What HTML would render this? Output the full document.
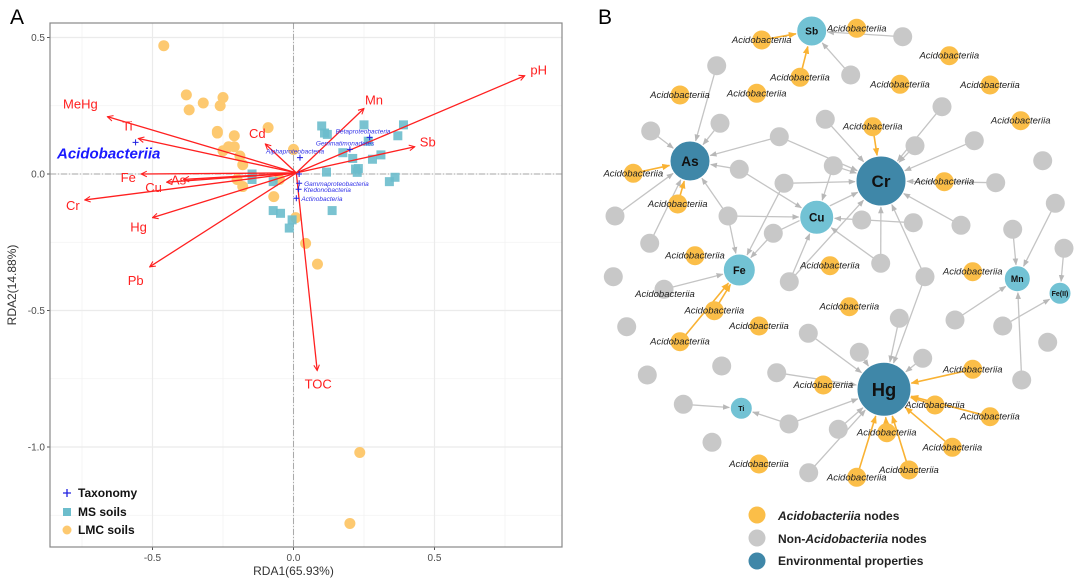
<!DOCTYPE html>
<html><head><meta charset="utf-8"><style>
body{margin:0;background:#fff;}
svg{display:block;font-family:"Liberation Sans",Arial,sans-serif;}
</style></head><body>
<svg id="fig" width="1080" height="584" viewBox="0 0 1080 584" xmlns="http://www.w3.org/2000/svg">
<defs>
<marker id="ar" viewBox="0 0 10 10" refX="9" refY="5" markerWidth="7" markerHeight="7" orient="auto" markerUnits="userSpaceOnUse"><path d="M1,1 L9,5 L1,9" fill="none" stroke="#ff2020" stroke-width="1.5"/></marker>
<marker id="ag" viewBox="0 0 10 10" refX="9" refY="5" markerWidth="7" markerHeight="7" orient="auto" markerUnits="userSpaceOnUse"><path d="M0,1 L10,5 L0,9 z" fill="#b8b8b8"/></marker>
<marker id="ao" viewBox="0 0 10 10" refX="9" refY="5" markerWidth="8" markerHeight="8" orient="auto" markerUnits="userSpaceOnUse"><path d="M0,1 L10,5 L0,9 z" fill="#f9b233"/></marker>
</defs>
<text x="10" y="24" font-size="21" fill="#000">A</text>
<text x="598" y="24" font-size="21" fill="#000">B</text>
<g id="pa"></g>
<g id="pb"></g>
</svg>
<script>
const NS="http://www.w3.org/2000/svg";
function mk(p,t,a){const e=document.createElementNS(NS,t);for(const k in a)e.setAttribute(k,a[k]);p.appendChild(e);return e;}
// ---- Panel A data ----
const envNames=["pH","Mn","Sb","Cd","MeHg","Ti","Fe","As","Cu","Cr","Hg","Pb","TOC"];
const envX=[0.82,0.25,0.43,-0.10,-0.66,-0.55,-0.54,-0.39,-0.45,-0.74,-0.50,-0.51,0.084];
const envY=[0.36,0.24,0.10,0.11,0.21,0.13,0.0,-0.02,-0.03,-0.095,-0.16,-0.34,-0.72];
const taxNames=["Acidobacteriia","Alphaproteobacteria","Gemmatimonadetes","Betaproteobacteria","","Gammaproteobacteria","Ktedonobacteria","Actinobacteria"];
const taxX=[-0.56,0.023,0.20,0.27,0.02,0.02,0.018,0.01];
const taxY=[0.116,0.06,0.09,0.134,0.0,-0.034,-0.056,-0.089];
const lmcX=[-0.46,-0.38,-0.37,-0.32,-0.25,-0.26,-0.27,-0.27,-0.21,-0.09,-0.23,-0.21,-0.25,-0.19,-0.18,0.0,-0.20,-0.18,-0.07,0.008,0.043,0.085,0.235,0.20,-0.05];
const lmcY=[0.47,0.29,0.235,0.26,0.28,0.25,0.156,0.15,0.14,0.17,0.10,0.10,0.085,0.066,0.034,0.09,-0.02,-0.046,-0.083,-0.16,-0.254,-0.33,-1.02,-1.28,-0.02];
const msX=[0.10,0.11,0.12,0.25,0.39,0.37,0.265,0.175,0.21,0.28,0.31,0.22,0.23,0.226,0.117,0.36,0.34,-0.147,-0.147,-0.072,0.137,-0.072,-0.046,-0.005,-0.015];
const msY=[0.176,0.15,0.145,0.18,0.18,0.14,0.12,0.078,0.057,0.054,0.07,0.018,0.02,0.006,0.007,-0.012,-0.028,0.0,-0.02,-0.028,-0.134,-0.134,-0.144,-0.168,-0.198];
const xTicks=[-0.5,0.0,0.5];
const yTicks=[0.5,0.0,-0.5,-1.0];
const X0=50,X1=562,Y0=23,Y1=547;
const sx=v=>293.5+v*282;
const sy=v=>174-v*273;
const pa=document.getElementById('pa');
mk(pa,'rect',{x:X0,y:Y0,width:X1-X0,height:Y1-Y0,fill:'#fff'});
[-0.75,-0.25,0.25,0.75].forEach(v=>mk(pa,'line',{x1:sx(v),x2:sx(v),y1:Y0,y2:Y1,stroke:'#f2f2f2','stroke-width':0.8}));
[0.25,-0.25,-0.75,-1.25].forEach(v=>mk(pa,'line',{x1:X0,x2:X1,y1:sy(v),y2:sy(v),stroke:'#f2f2f2','stroke-width':0.8}));
xTicks.forEach(v=>{mk(pa,'line',{x1:sx(v),x2:sx(v),y1:Y0,y2:Y1,stroke:'#ebebeb','stroke-width':1.2});
 mk(pa,'line',{x1:sx(v),x2:sx(v),y1:Y1,y2:Y1+3,stroke:'#555'});
 const t=mk(pa,'text',{x:sx(v),y:Y1+14,'font-size':10,fill:'#4d4d4d','text-anchor':'middle'});t.textContent=v.toFixed(1);
 });
yTicks.forEach(v=>{mk(pa,'line',{x1:X0,x2:X1,y1:sy(v),y2:sy(v),stroke:'#ebebeb','stroke-width':1.2});
 mk(pa,'line',{x1:X0-3,x2:X0,y1:sy(v),y2:sy(v),stroke:'#555'});
 const t=mk(pa,'text',{x:X0-5,y:sy(v)+3.5,'font-size':10,fill:'#4d4d4d','text-anchor':'end'});t.textContent=v.toFixed(1);
 });
mk(pa,'line',{x1:sx(0),x2:sx(0),y1:Y0,y2:Y1,stroke:'#aaa','stroke-dasharray':'6,2,1,2'});
mk(pa,'line',{x1:X0,x2:X1,y1:sy(0),y2:sy(0),stroke:'#aaa','stroke-dasharray':'6,2,1,2'});
lmcX.forEach((v,i)=>{const c=mk(pa,'circle',{cx:sx(v),cy:sy(lmcY[i]),r:5.5,fill:'#fdc970'});
 });
msX.forEach((v,i)=>{const c=mk(pa,'rect',{x:sx(v)-4.5,y:sy(msY[i])-4.5,width:9,height:9,fill:'#6cbdcc',opacity:0.9});
 });
const lo={pH:[14,-5],Mn:[10,-8],Sb:[13,-4],Cd:[-8,-10],MeHg:[-27,-12],Ti:[-11,-12],Fe:[-13,4],As:[-5,1],Cu:[-13,6],Cr:[-12,6],Hg:[-14,10],Pb:[-14,14],TOC:[1,14]};
envNames.forEach((n,i)=>{const l=mk(pa,'line',{x1:sx(0.01),y1:sy(0.004),x2:sx(envX[i]),y2:sy(envY[i]),stroke:'#ff2020','stroke-width':1.3,'marker-end':'url(#ar)'});
 
 const o=lo[n];const t=mk(pa,'text',{x:sx(envX[i])+o[0],y:sy(envY[i])+o[1]+4,'font-size':13,fill:'#ff2020','text-anchor':'middle'});t.textContent=n;
 });
taxX.forEach((v,i)=>{const x=sx(v),y=sy(taxY[i]);
 const p=mk(pa,'path',{d:`M${x-3},${y}H${x+3}M${x},${y-3}V${y+3}`,stroke:'#2020e0','stroke-width':1});
 
 if(!taxNames[i])return;
 let t;
 if(i===0){t=mk(pa,'text',{x:57,y:y+16,'font-size':15,'font-weight':'bold','font-style':'italic',fill:'#1a1aff'});}
 else if(i<=3){t=mk(pa,'text',{x:x-34,y:y-4,'font-size':6.5,'font-style':'italic',fill:'#3030e8'});}
 else{t=mk(pa,'text',{x:x+5,y:y+2.5,'font-size':6.5,'font-style':'italic',fill:'#3030e8'});}
 t.textContent=taxNames[i];});
mk(pa,'rect',{x:X0,y:Y0,width:X1-X0,height:Y1-Y0,fill:'none',stroke:'#888','stroke-width':1.2});
let t=mk(pa,'text',{x:sx(0),y:575,'font-size':12,fill:'#333','text-anchor':'middle'});t.textContent='RDA1(65.93%)';

t=mk(pa,'text',{x:16,y:285,'font-size':12,fill:'#333','text-anchor':'middle',transform:'rotate(-90 16 285)'});t.textContent='RDA2(14.88%)';

const lg=mk(pa,'g',{});
mk(lg,'path',{d:'M63,493H71M67,489V497',stroke:'#2020e0','stroke-width':1.3});
mk(lg,'rect',{x:63,y:508,width:8,height:8,fill:'#6cbdcc'});
mk(lg,'circle',{cx:67,cy:530,r:4.5,fill:'#fdc970'});
[['Taxonomy',497],['MS soils',516],['LMC soils',534]].forEach(a=>{const e=mk(lg,'text',{x:78,y:a[1],'font-size':12,'font-weight':'bold',fill:'#111'});e.textContent=a[0];
 });

// ---- Panel B ----
const envNodes=[["Sb",811.7,31,15,0],["As",690,161,20,1],["Cr",881,181,25,1],["Cu",816.7,217.3,17,0],["Fe",739.3,270,16,0],["Mn",1017.3,278.7,13,0],["Fe(II)",1060,293.3,11,0],["Hg",884,389.3,27,1],["Ti",741.3,408.3,11,0]];
const grayNodes=[[902.7,36.7],[850.7,75],[716.7,65.7],[720,123.3],[650.7,131],[779.3,136.7],[825.3,119.3],[942,106.7],[915,145.7],[974.3,140.7],[1042.7,160.7],[833.3,165.7],[739.3,169.3],[784,183.3],[995.7,182.7],[615,216],[728,216],[861.7,220],[913.3,222.7],[773.3,233.3],[961,225.3],[649.7,243.3],[1012.7,229.3],[1055.3,203.3],[880.7,263.3],[1064,248.3],[613.3,276.7],[789.3,281.7],[925,276.7],[664,289.3],[626.7,326.7],[808.3,333.3],[899.3,318.3],[955,320],[1002.7,326],[1047.7,342.3],[859.3,352.3],[922.7,358.3],[721.7,366],[647.3,375],[776.7,372.7],[1021.7,380],[683.3,404.3],[789,424],[838.3,429.3],[712,442.3],[808.7,472.7]];
const acidoNodes=[[761.7,40],[856.7,28.3],[800,77.3],[949.3,55.7],[900,84.3],[990,85],[680,95],[756.7,93.3],[1020.7,120.7],[872.7,126.7],[633.3,173.3],[677.7,204],[944.3,181.7],[695,255.7],[830,265.7],[972.7,271.7],[714.3,310.7],[759,326],[680,341.7],[849.3,306.7],[823.3,385],[972.7,369.3],[935,405],[990,416.7],[886.7,432.7],[952.3,447.3],[909,470],[856.7,477.3],[759,464]];
const edges=[["g",2,"As"],["g",3,"As"],["g",4,"As"],["g",5,"As"],["g",12,"As"],["g",15,"As"],["g",16,"As"],["g",21,"As"],["a",10,"As"],["a",11,"As"],
["g",6,"Cr"],["g",7,"Cr"],["g",8,"Cr"],["g",9,"Cr"],["g",11,"Cr"],["g",13,"Cr"],["g",14,"Cr"],["g",20,"Cr"],["g",24,"Cr"],["g",28,"Cr"],["g",27,"Cr"],["g",19,"Cr"],["g",5,"Cr"],["a",9,"Cr"],
["g",12,"Cu"],["g",16,"Cu"],["g",18,"Cu"],["g",11,"Cu"],["g",27,"Cu"],["g",24,"Cu"],
["g",16,"Fe"],["g",13,"Fe"],["g",29,"Fe"],["g",19,"Fe"],["a",16,"Fe"],["a",18,"Fe"],
["a",0,"Sb"],["a",2,"Sb"],["g",0,"Sb"],["g",1,"Sb"],
["g",22,"Mn"],["g",23,"Mn"],["g",41,"Mn"],["g",33,"Mn"],
["g",25,"Fe(II)"],["g",34,"Fe(II)"],
["g",31,"Hg"],["g",36,"Hg"],["g",32,"Hg"],["g",37,"Hg"],["g",28,"Hg"],["g",43,"Hg"],["g",44,"Hg"],["g",46,"Hg"],["g",40,"Hg"],
["a",21,"Hg"],["a",22,"Hg"],["a",23,"Hg"],["a",24,"Hg"],["a",25,"Hg"],["a",26,"Hg"],["a",27,"Hg"],
["g",42,"Ti"],["g",43,"Ti"]];
const pb=document.getElementById('pb');
const eg=mk(pb,'g',{});
const envMap={};envNodes.forEach(n=>envMap[n[0]]=n);
edges.forEach(e=>{const s=e[0]==='g'?grayNodes[e[1]]:acidoNodes[e[1]];const t=envMap[e[2]];
 const dx=t[1]-s[0],dy=t[2]-s[1],d=Math.hypot(dx,dy);const r=t[3]+1;
 const org=e[0]==='a';
 const l=mk(eg,'line',{x1:s[0],y1:s[1],x2:t[1]-dx/d*r,y2:t[2]-dy/d*r,stroke:org?'#f9b233':'#c4c4c4','stroke-width':org?1.6:1.3,'marker-end':org?'url(#ao)':'url(#ag)'});
 });
grayNodes.forEach(n=>{const c=mk(pb,'circle',{cx:n[0],cy:n[1],r:9.5,fill:'#c8c8c8'});
 });
acidoNodes.forEach(n=>{const c=mk(pb,'circle',{cx:n[0],cy:n[1],r:9.5,fill:'#fbbe48'});
 });
acidoNodes.forEach(n=>{const t=mk(pb,'text',{x:n[0],y:n[1]+3,'font-size':9.5,'font-style':'italic',fill:'#222','text-anchor':'middle'});t.textContent='Acidobacteriia';
 });
{const t=mk(pb,'text',{x:665,y:297,'font-size':9.5,'font-style':'italic',fill:'#222','text-anchor':'middle'});t.textContent='Acidobacteriia';
 }
envNodes.forEach(n=>{const c=mk(pb,'circle',{cx:n[1],cy:n[2],r:n[3],fill:n[4]?'#3f87a8':'#72c2d4',stroke:'#fff','stroke-width':1});
 
 const fs=n[3]*0.68;const t=mk(pb,'text',{x:n[1],y:n[2]+fs*0.36,'font-size':n[3]<12?7:fs,'font-weight':'bold',fill:'#111','text-anchor':'middle'});t.textContent=n[0];
 });
const lb=mk(pb,'g',{});
mk(lb,'circle',{cx:757,cy:515,r:8.5,fill:'#fbbe48'});
mk(lb,'circle',{cx:757,cy:538,r:8.5,fill:'#c8c8c8'});
mk(lb,'circle',{cx:757,cy:561,r:8.5,fill:'#3f87a8'});
let e=mk(lb,'text',{x:778,y:520,'font-size':12,'font-weight':'bold',fill:'#222'});e.innerHTML='<tspan font-style="italic">Acidobacteriia</tspan> nodes';

e=mk(lb,'text',{x:778,y:543,'font-size':12,'font-weight':'bold',fill:'#222'});e.innerHTML='Non-<tspan font-style="italic">Acidobacteriia</tspan> nodes';

e=mk(lb,'text',{x:778,y:565,'font-size':12,'font-weight':'bold',fill:'#222'});e.textContent='Environmental properties';

</script>
</body></html>
